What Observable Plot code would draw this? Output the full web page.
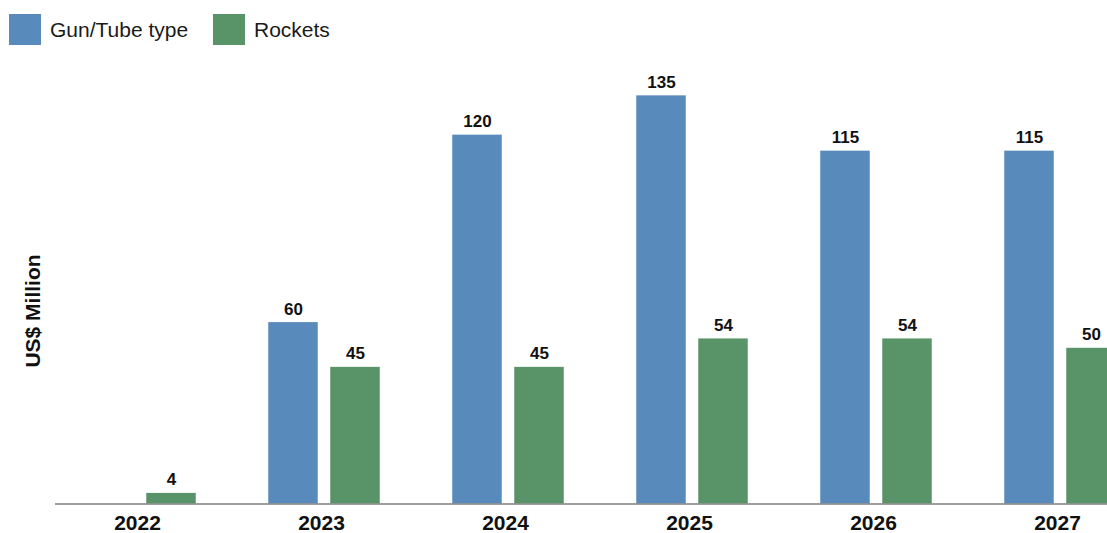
<!DOCTYPE html>
<html>
<head>
<meta charset="utf-8">
<script src="https://cdn.jsdelivr.net/npm/d3@7"></script>
<script src="https://cdn.jsdelivr.net/npm/@observablehq/plot@0.6"></script>
<style>
  html, body { margin: 0; padding: 0; background: #fff; overflow: hidden; width: 1107px; height: 533px; }
  body { font-family: "Liberation Sans", Arial, sans-serif; position: relative; }
  #chart { position: absolute; left: 0; top: 0; width: 1154px; height: 533px; }
  #chart svg { max-width: none !important; width: 1154px !important; height: 533px !important; }
  .legend-item { position: absolute; top: 14px; display: flex; align-items: center; font-size: 21px; color: #1a1a1a; }
  .swatch { width: 32px; height: 31px; margin-right: 9px; }
  #ylabel { position: absolute; left: 33px; top: 311px; transform: translate(-50%, -50%) rotate(-90deg);
            font-size: 21px; font-weight: bold; color: #111; white-space: nowrap; }
</style>
</head>
<body>
<div id="chart"></div>
<div class="legend-item" style="left:9px"><div class="swatch" style="background:#588abb"></div>Gun/Tube type</div>
<div class="legend-item" style="left:213px"><div class="swatch" style="background:#589468"></div>Rockets</div>
<div id="ylabel">US$ Million</div>
<script>
const years = ["2022", "2023", "2024", "2025", "2026", "2027"];
// bar heights
const gunValues = [null, 60, 122, 135, 116.7, 116.7];
const rocketValues = [3.5, 45.2, 45.2, 54.6, 54.6, 51.5];
// value labels as printed on the chart
const gunLabels = ["", "60", "120", "135", "115", "115"];
const rocketLabels = ["4", "45", "45", "54", "54", "50"];
const seriesNames = ["Gun/Tube type", "Rockets"];
const colors = ["#588abb", "#589468"];

const gun = years.map((year, i) => ({year, value: gunValues[i], label: gunLabels[i]})).filter(d => d.value != null);
const rockets = years.map((year, i) => ({year, value: rocketValues[i], label: rocketLabels[i]})).filter(d => d.value != null);

const chart = Plot.plot({
  width: 1154,
  height: 533,
  marginLeft: 55,
  marginRight: 0,
  marginTop: 50,
  marginBottom: 29.5,
  style: {fontFamily: "'Liberation Sans', Arial, sans-serif", color: "#111", background: "#fff"},
  x: {domain: years, range: [46.25, 1153.25], padding: 0, label: null},
  y: {domain: [0, 150], axis: null},
  marks: [
    Plot.barY(gun, {x: "year", y: "value", fill: colors[0], insetLeft: 36.25, insetRight: 98.25}),
    Plot.barY(rockets, {x: "year", y: "value", fill: colors[1], insetLeft: 98.25, insetRight: 36.25}),
    Plot.text(gun, {x: "year", y: "value", text: "label", dx: -31, dy: -8, lineAnchor: "bottom",
      fontSize: 17, fontWeight: "bold", fill: "#111"}),
    Plot.text(rockets, {x: "year", y: "value", text: "label", dx: 31, dy: -8, lineAnchor: "bottom",
      fontSize: 17, fontWeight: "bold", fill: "#111"}),
    Plot.ruleY([0], {stroke: "#7f7f7f", strokeWidth: 1.5}),
    Plot.axisX({tickSize: 0, tickPadding: 11, fontSize: 21, fontWeight: "bold", dx: -3, label: null, fill: "#111"})
  ]
});
document.getElementById("chart").appendChild(chart);
</script>
</body>
</html>
